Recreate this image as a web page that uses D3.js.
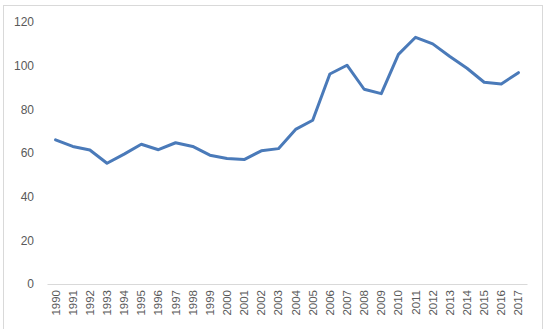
<!DOCTYPE html>
<html lang='en'>
<head>
    <meta charset='UTF-8'>
    <title>chart</title>
    <script src='https://cdnjs.cloudflare.com/ajax/libs/d3/7.8.5/d3.min.js'></script>
    <style>
        body { margin: 0; background: #fff; }
    </style>
</head>
<body>
    <div id='anchor'></div>
    <script>
        const years = d3.range(1990, 2018).map(String);
        const values = [66, 63, 61.4, 55.3, 59.5, 64, 61.5, 64.7, 63, 59, 57.5, 57, 61, 62,
                        70.8, 75, 96.2, 100.2, 89.2, 87.2, 105.2, 113, 110, 104.2, 98.8, 92.4, 91.6, 96.8];
        const yTicks = [0, 20, 40, 60, 80, 100, 120];

        const width = 548, height = 329;
        const margin = {left: 47, right: 21, top: 22, bottom: 45};

        const svg = d3.select('#anchor').append('svg')
            .attr('width', width)
            .attr('height', height)
            .style('display', 'block')
            .attr('font-family', 'Liberation Sans, Arial, sans-serif');

        // chart frame
        svg.append('rect')
            .attr('x', 3.5).attr('y', 5.5)
            .attr('width', 539).attr('height', 330)
            .attr('fill', '#fff')
            .attr('stroke', '#d9d9d9');

        const x = d3.scaleBand()
            .domain(years)
            .range([margin.left, width - margin.right]);

        const y = d3.scaleLinear()
            .domain([0, 120])
            .range([height - margin.bottom, margin.top]);

        // y labels, no axis line
        const yAxis = svg.append('g')
            .attr('transform', `translate(${margin.left - 13},0)`)
            .call(d3.axisLeft(y).tickValues(yTicks).tickSize(0).tickPadding(0));
        yAxis.select('.domain').remove();
        yAxis.selectAll('text')
            .attr('fill', '#595959')
            .attr('font-size', 12);

        // x axis
        const xAxis = svg.append('g')
            .attr('transform', `translate(0,${y(0)})`)
            .call(d3.axisBottom(x).tickSize(0));
        xAxis.select('.domain').attr('stroke', '#d9d9d9');
        xAxis.selectAll('text')
            .attr('fill', '#595959')
            .attr('font-size', 11.5)
            .attr('text-anchor', 'end')
            .attr('dy', '0.35em')
            .attr('transform', 'translate(0,6) rotate(-90)')
            .attr('x', 0)
            .attr('y', 0);

        const line = d3.line()
            .x((d, i) => x(years[i]) + x.bandwidth() / 2)
            .y(d => y(d));

        svg.append('path')
            .datum(values)
            .attr('fill', 'none')
            .attr('stroke', '#4a7ab9')
            .attr('stroke-width', 3)
            .attr('stroke-linejoin', 'round')
            .attr('stroke-linecap', 'round')
            .attr('d', line);
    </script>
</body>
</html>
